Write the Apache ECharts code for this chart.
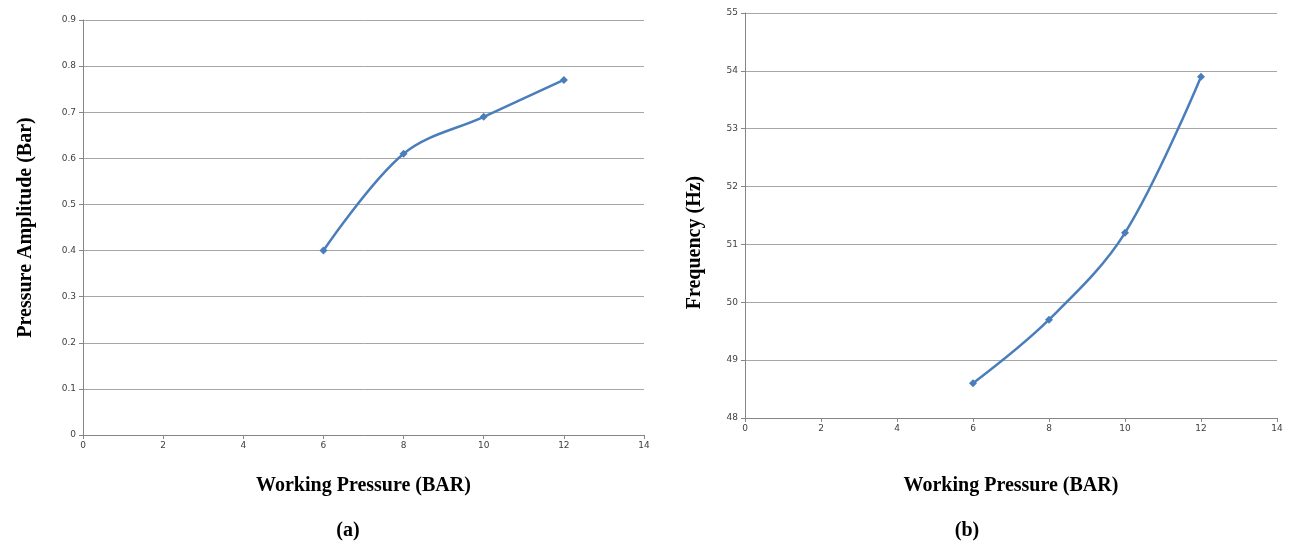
<!DOCTYPE html>
<html>
<head>
<meta charset="utf-8">
<script src="https://cdn.jsdelivr.net/npm/echarts@6/dist/echarts.min.js"></script>
<style>html,body{margin:0;padding:0;background:#fff;}#c{width:1291px;height:546px;}</style>
</head>
<body>
<div id="c"></div>
<script>
const workingPressure = [6, 8, 10, 12];
const pressureAmplitude = [0.40, 0.61, 0.69, 0.77];
const frequency = [48.6, 49.7, 51.2, 53.9];
const xTitle = 'Working Pressure (BAR)';
const yTitleA = 'Pressure Amplitude (Bar)';
const yTitleB = 'Frequency (Hz)';
const captions = ['(a)', '(b)'];

const lineColor = '#4a7ebb';
const axisGrey = '#868686';
const gridGrey = '#a6a6a6';
const labelStyle = {color: '#404040', fontSize: 9, fontFamily: 'DejaVu Sans'};
const titleStyle = {color: '#000', fontSize: 20, fontWeight: 'bold', fontFamily: 'Liberation Serif'};

function xAxis(idx, gap) {
  return {
    type: 'value', gridIndex: idx, min: 0, max: 14, interval: 2,
    name: xTitle, nameLocation: 'middle', nameGap: gap, nameTextStyle: titleStyle,
    axisLine: {show: true, lineStyle: {color: axisGrey, width: 1}},
    axisTick: {show: true, length: 4, lineStyle: {color: axisGrey}},
    axisLabel: Object.assign({margin: 6}, labelStyle),
    splitLine: {show: false}
  };
}
function yAxis(idx, min, max, interval, name, gap, pad) {
  return {
    type: 'value', gridIndex: idx, min: min, max: max, interval: interval,
    name: name, nameLocation: 'middle', nameGap: gap,
    nameTextStyle: Object.assign({padding: pad}, titleStyle),
    axisLine: {show: true, lineStyle: {color: axisGrey, width: 1}},
    axisTick: {show: true, length: 4, lineStyle: {color: axisGrey}},
    axisLabel: Object.assign({margin: 7}, labelStyle),
    splitLine: {show: true, lineStyle: {color: gridGrey, width: 1}}
  };
}
function series(idx, ys) {
  return {
    type: 'line', xAxisIndex: idx, yAxisIndex: idx,
    data: workingPressure.map((x, i) => [x, ys[i]]),
    smooth: 0.35, symbol: 'diamond', symbolSize: 8,
    lineStyle: {color: lineColor, width: 2.5},
    itemStyle: {color: lineColor}
  };
}

const chart = echarts.init(document.getElementById('c'), null, {renderer: 'canvas'});
chart.setOption({
  animation: false,
  backgroundColor: '#fff',
  grid: [
    {left: 83, top: 20, width: 561, height: 415},
    {left: 745, top: 13, width: 532, height: 405}
  ],
  title: [
    {text: captions[0], left: 343, top: 516, textAlign: 'center', textStyle: titleStyle},
    {text: captions[1], left: 962, top: 516, textAlign: 'center', textStyle: titleStyle}
  ],
  xAxis: [xAxis(0, 41), xAxis(1, 58)],
  yAxis: [
    yAxis(0, 0, 0.9, 0.1, yTitleA, 47, [0, 0, 0, 0]),
    yAxis(1, 48, 55, 1, yTitleB, 40, [0, 54, 0, 0])
  ],
  series: [series(0, pressureAmplitude), series(1, frequency)]
});
</script>
</body>
</html>
